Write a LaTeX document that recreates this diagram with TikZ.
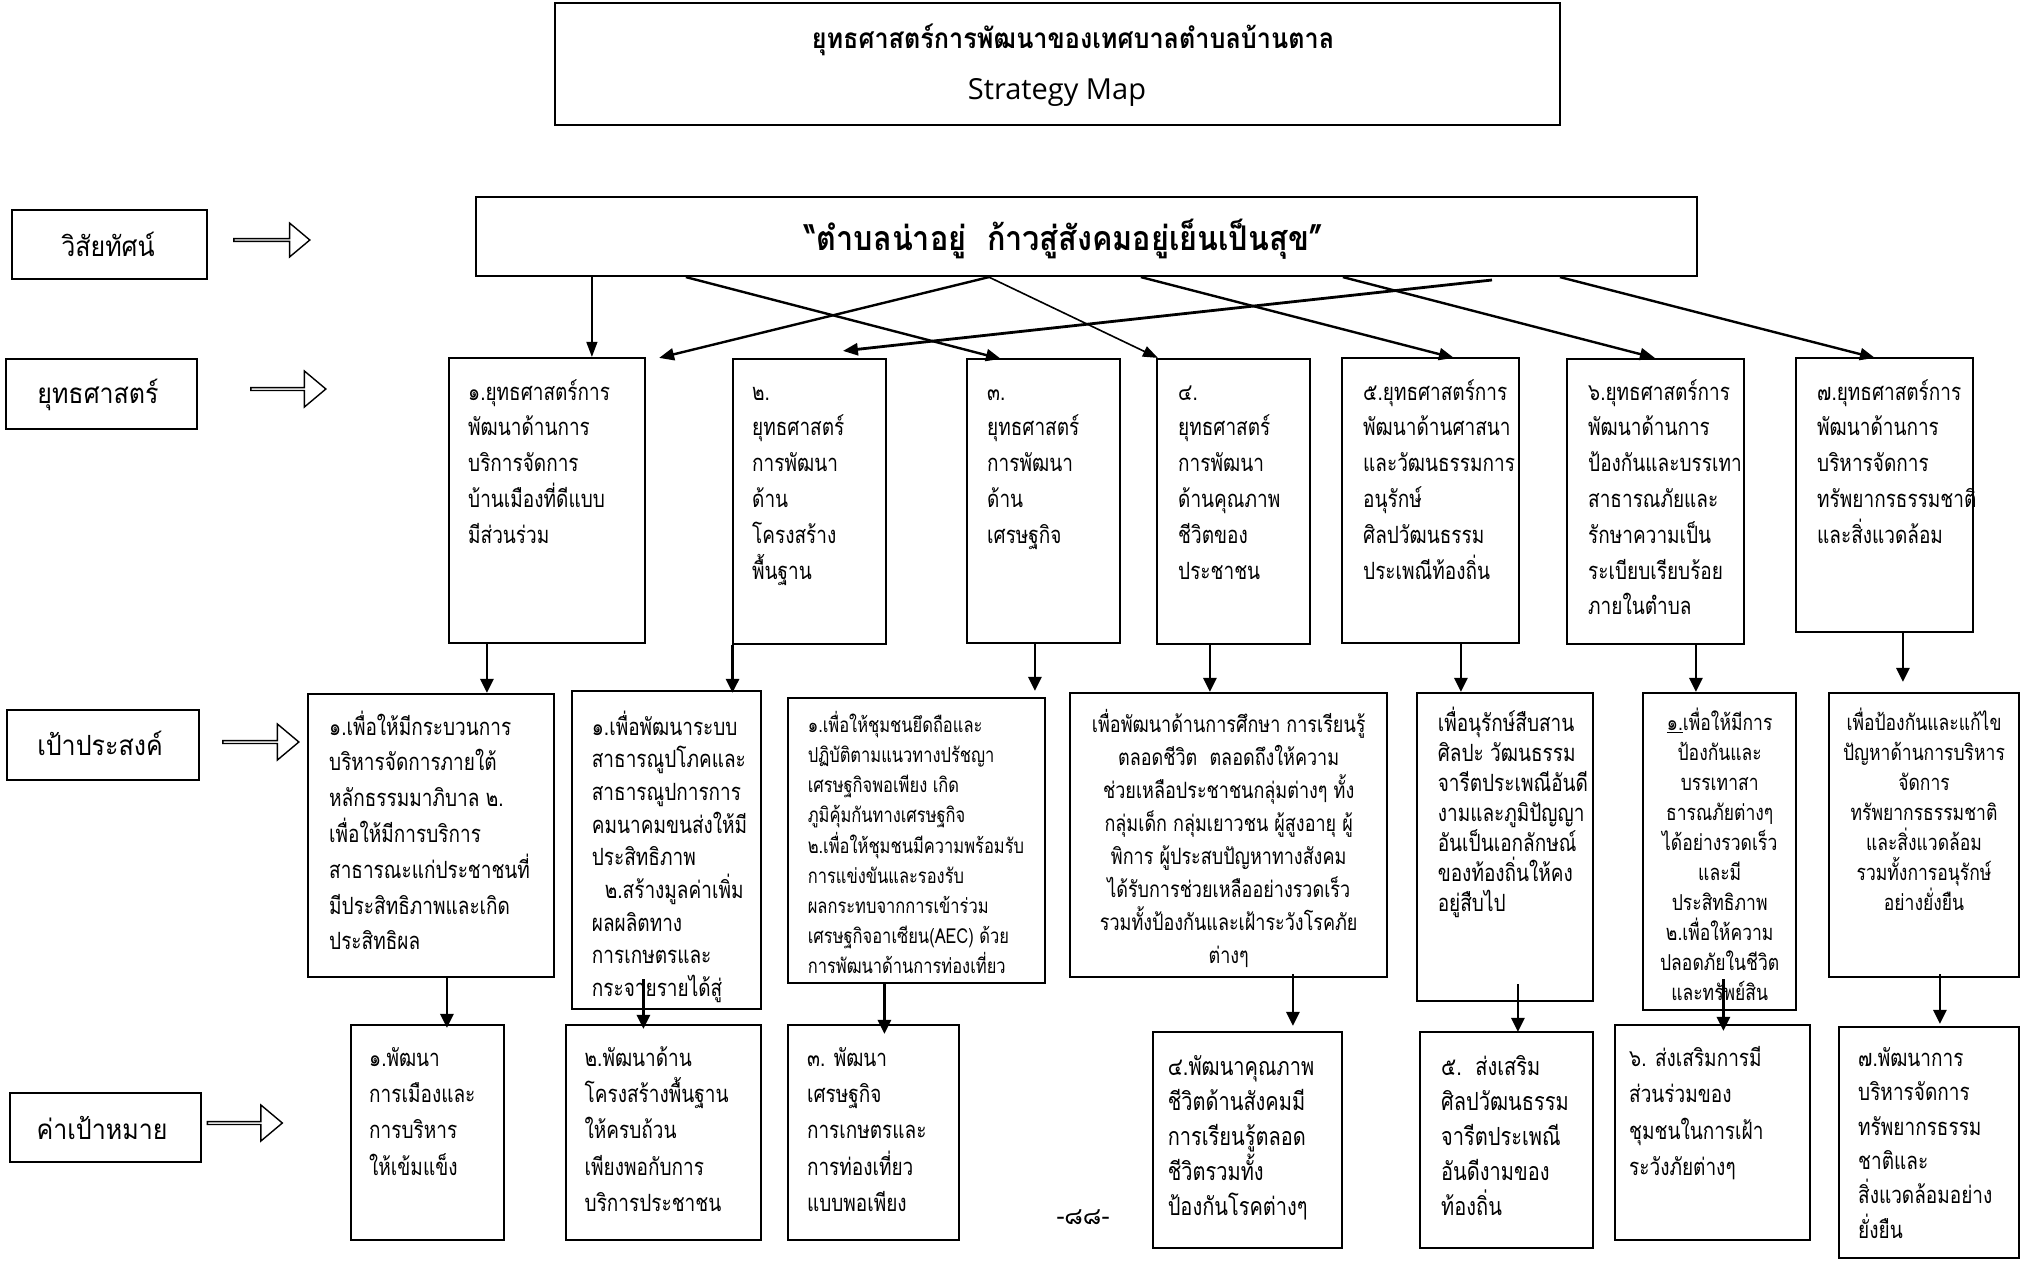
\documentclass[tikz,border=0pt]{standalone}
\usepackage{fontspec}
\newfontfamily\thaifont[Script=Thai]{Loma}
\newfontfamily\thaic[Script=Thai, FakeStretch=0.8]{Loma}
\newfontfamily\thaim[Script=Thai, FakeStretch=0.9]{Loma}
\newfontfamily\latinsans{Open Sans}
\usetikzlibrary{arrows.meta,fit,shapes.arrows,calc}
\newcommand\fsz[2]{\fontsize{#1}{#2}\selectfont\lineskiplimit=-100pt\relax}
\tikzset{
  box/.style={draw, line width=2.2pt, inner sep=0pt},
  arr/.style={line width=2.8pt, -{Triangle[length=14pt,width=13pt]}},
  varr/.style={line width=2.4pt, -{Triangle[length=15pt,width=12pt]}},
  thinarr/.style={line width=1.3pt, -{Triangle[length=15pt,width=11pt]}},
  hollow/.style={single arrow, draw, line width=1.4pt, fill=white, inner sep=0pt,
    single arrow head extend=8pt, single arrow tip angle=80, shape border rotate=0},
  tl/.style={inner sep=0pt, align=left, anchor=base west},
  tc/.style={inner sep=0pt, align=center, anchor=base},
  lab/.style={tc, font={\thaim\fsz{27.8}{32}}},
  sfont/.style={font={\thaic\fsz{23.75}{35.8}}},
}
\begin{document}
\begin{tikzpicture}[x=1pt,y=-1pt]
\useasboundingbox[fill=white] (0,0) rectangle (2022,1261);

% ---------- title ----------
\node[box, fit={(555,3) (1560,125)}] (title) {};
\node[tc, font={\thaim\bfseries\fsz{28}{32}}] (titleA) at (1073,48) {ยุทธศาสตร์การพัฒนาของเทศบาลตำบลบ้านตาล};
\node[tc, font={\latinsans\fsz{29}{32}}] (titleB) at (1057,99) {Strategy Map};

% ---------- row labels ----------
\node[box, fit={(12,210) (207,279)}] (L1) {};
\node[lab] (L1t) at (108,256) {วิสัยทัศน์};
\node[box, fit={(6,359) (197,429)}] (L2) {};
\node[lab] (L2t) at (98,403) {ยุทธศาสตร์};
\node[box, fit={(7,710) (199,780)}] (L3) {};
\node[lab] (L3t) at (100,755) {เป้าประสงค์};
\node[box, fit={(10,1093) (201,1162)}] (L4) {};
\node[lab] (L4t) at (102,1139) {ค่าเป้าหมาย};

\node[hollow, minimum height=76pt, minimum width=34pt] (A1) at (271,240) {};
\node[hollow, minimum height=75pt, minimum width=36pt] (A2) at (287.5,389) {};
\node[hollow, minimum height=76pt, minimum width=36pt] (A3) at (260,742) {};
\node[hollow, minimum height=75pt, minimum width=36pt] (A4) at (244,1123) {};

% ---------- vision ----------
\node[box, fit={(476,197) (1697,276)}] (V) {};
\node[tc, font={\thaim\bfseries\fsz{34}{38}}] (Vt) at (1064,250) {“ตำบลน่าอยู่\ \ ก้าวสู่สังคมอยู่เย็นเป็นสุข”};

% ---------- strategies ----------
\node[box, fit={(449,358) (645,643)}] (S1) {};
\node[box, fit={(733,359) (886,644)}] (S2) {};
\node[box, fit={(967,359) (1120,643)}] (S3) {};
\node[box, fit={(1157,359) (1310,644)}] (S4) {};
\node[box, fit={(1342,358) (1519,643)}] (S5) {};
\node[box, fit={(1567,359) (1744,644)}] (S6) {};
\node[box, fit={(1796,358) (1973,632)}] (S7) {};
\node[tl, sfont] (S1t) at (468,543.2) {๑.ยุทธศาสตร์การ\\พัฒนาด้านการ\\บริการจัดการ\\บ้านเมืองที่ดีแบบ\\มีส่วนร่วม};
\node[tl, sfont] (S2t) at (752,579) {๒.\\ยุทธศาสตร์\\การพัฒนา\\ด้าน\\โครงสร้าง\\พื้นฐาน};
\node[tl, sfont] (S3t) at (987,543.2) {๓.\\ยุทธศาสตร์\\การพัฒนา\\ด้าน\\เศรษฐกิจ};
\node[tl, sfont] (S4t) at (1178,579) {๔.\\ยุทธศาสตร์\\การพัฒนา\\ด้านคุณภาพ\\ชีวิตของ\\ประชาชน};
\node[tl, sfont] (S5t) at (1363,579) {๕.ยุทธศาสตร์การ\\พัฒนาด้านศาสนา\\และวัฒนธรรมการ\\อนุรักษ์\\ศิลปวัฒนธรรม\\ประเพณีท้องถิ่น};
\begin{scope}
\clip (S6.north west) rectangle (S6.south east);
\node[tl, sfont] (S6t) at (1588,614.8) {๖.ยุทธศาสตร์การ\\พัฒนาด้านการ\\ป้องกันและบรรเทา\\สาธารณภัยและ\\รักษาความเป็น\\ระเบียบเรียบร้อย\\ภายในตำบล};
\end{scope}
\begin{scope}
\clip (S7.north west) rectangle (S7.south east);
\node[tl, sfont] (S7t) at (1817,543.2) {๗.ยุทธศาสตร์การ\\พัฒนาด้านการ\\บริหารจัดการ\\ทรัพยากรธรรมชาติ\\และสิ่งแวดล้อม};
\end{scope}

% ---------- objectives ----------
\node[box, fit={(308,694) (554,977)}] (O1) {};
\node[box, fit={(572,691) (761,1009)}] (O2) {};
\node[box, fit={(788,698) (1045,983)}] (O3) {};
\node[box, fit={(1070,693) (1387,977)}] (O4) {};
\node[box, fit={(1417,693) (1593,1001)}] (O5) {};
\node[box, fit={(1643,693) (1796,1010)}] (O6) {};
\node[box, fit={(1829,693) (2019,977)}] (O7) {};
\node[tl, font={\thaic\fsz{23.75}{35.8}}] (O1t) at (329,949.8) {๑.เพื่อให้มีกระบวนการ\\บริหารจัดการภายใต้\\หลักธรรมมาภิบาล ๒.\\เพื่อให้มีการบริการ\\สาธารณะแก่ประชาชนที่\\มีประสิทธิภาพและเกิด\\ประสิทธิผล};
\node[tl, font={\thaic\fsz{23.75}{32.7}}] (O2t) at (591.7,996.6) {๑.เพื่อพัฒนาระบบ\\สาธารณูปโภคและ\\สาธารณูปการการ\\คมนาคมขนส่งให้มี\\ประสิทธิภาพ\\\hspace*{13pt}๒.สร้างมูลค่าเพิ่ม\\ผลผลิตทาง\\การเกษตรและ\\กระจายรายได้สู่};
\node[tl, font={\thaic\fsz{20.6}{30.2}}] (O3t) at (807.6,973.8) {๑.เพื่อให้ชุมชนยึดถือและ\\ปฏิบัติตามแนวทางปรัชญา\\เศรษฐกิจพอเพียง เกิด\\ภูมิคุ้มกันทางเศรษฐกิจ\\๒.เพื่อให้ชุมชนมีความพร้อมรับ\\การแข่งขันและรองรับ\\ผลกระทบจากการเข้าร่วม\\เศรษฐกิจอาเซียน(AEC) ด้วย\\การพัฒนาด้านการท่องเที่ยว};
\node[tc, font={\thaic\fsz{22.5}{33}}] (O4t) at (1228.7,963.9) {เพื่อพัฒนาด้านการศึกษา การเรียนรู้\\ตลอดชีวิต\ \ ตลอดถึงให้ความ\\ช่วยเหลือประชาชนกลุ่มต่างๆ ทั้ง\\กลุ่มเด็ก กลุ่มเยาวชน ผู้สูงอายุ ผู้\\พิการ ผู้ประสบปัญหาทางสังคม\\ได้รับการช่วยเหลืออย่างรวดเร็ว\\รวมทั้งป้องกันและเฝ้าระวังโรคภัย\\ต่างๆ};
\node[tl, font={\thaic\fsz{23.75}{30}}] (O5t) at (1437.6,911) {เพื่อนุรักษ์สืบสาน\\ศิลปะ วัฒนธรรม\\จารีตประเพณีอันดี\\งามและภูมิปัญญา\\อันเป็นเอกลักษณ์\\ของท้องถิ่นให้คง\\อยู่สืบไป};
\node[tc, font={\thaic\fsz{21.9}{30}}] (O6t) at (1719.7,1000.4) {\underline{๑.}เพื่อให้มีการ\\ป้องกันและ\\บรรเทาสา\\ธารณภัยต่างๆ\\ได้อย่างรวดเร็ว\\และมี\\ประสิทธิภาพ\\๒.เพื่อให้ความ\\ปลอดภัยในชีวิต\\และทรัพย์สิน};
\node[tc, font={\thaic\fsz{21.9}{30}}] (O7t) at (1924,910.4) {เพื่อป้องกันและแก้ไข\\ปัญหาด้านการบริหาร\\จัดการ\\ทรัพยากรธรรมชาติ\\และสิ่งแวดล้อม\\รวมทั้งการอนุรักษ์\\อย่างยั่งยืน};

% ---------- targets ----------
\node[box, fit={(351,1025) (504,1240)}] (T1) {};
\node[box, fit={(566,1025) (761,1240)}] (T2) {};
\node[box, fit={(788,1025) (959,1240)}] (T3) {};
\node[box, fit={(1153,1032) (1342,1248)}] (T4) {};
\node[box, fit={(1420,1032) (1593,1248)}] (T5) {};
\node[box, fit={(1615,1025) (1810,1240)}] (T6) {};
\node[box, fit={(1839,1027) (2019,1258)}] (T7) {};
\node[tl, font={\thaic\fsz{23.75}{36.3}}] (T1t) at (369,1175.2) {๑.พัฒนา\\การเมืองและ\\การบริหาร\\ให้เข้มแข็ง};
\node[tl, font={\thaic\fsz{23.75}{36.3}}] (T2t) at (584.5,1211.5) {๒.พัฒนาด้าน\\โครงสร้างพื้นฐาน\\ให้ครบถ้วน\\เพียงพอกับการ\\บริการประชาชน};
\node[tl, font={\thaic\fsz{23.75}{36.3}}] (T3t) at (806.8,1211.5) {๓. พัฒนา\\เศรษฐกิจ\\การเกษตรและ\\การท่องเที่ยว\\แบบพอเพียง};
\node[tl, font={\thaic\fsz{25}{35}}] (T4t) at (1167.6,1215.5) {๔.พัฒนาคุณภาพ\\ชีวิตด้านสังคมมี\\การเรียนรู้ตลอด\\ชีวิตรวมทั้ง\\ป้องกันโรคต่างๆ};
\node[tl, font={\thaic\fsz{25}{35}}] (T5t) at (1441,1215.5) {๕.\ \ ส่งเสริม\\ศิลปวัฒนธรรม\\จารีตประเพณี\\อันดีงามของ\\ท้องถิ่น};
\node[tl, font={\thaic\fsz{23.75}{36.5}}] (T6t) at (1629,1175.8) {๖. ส่งเสริมการมี\\ส่วนร่วมของ\\ชุมชนในการเฝ้า\\ระวังภัยต่างๆ};
\node[tl, font={\thaic\fsz{23.75}{34.4}}] (T7t) at (1858,1238.3) {๗.พัฒนาการ\\บริหารจัดการ\\ทรัพยากรธรรม\\ชาติและ\\สิ่งแวดล้อมอย่าง\\ยั่งยืน};

\node[tc, font={\thaifont\fsz{24}{28}}] (page) at (1083,1224) {-๘๘-};

% ---------- connectors: vision -> strategies ----------
\draw[thinarr] ($(V.south west)+(117,0)$) -- ($(S1.north west)+(144,0)$);
\draw[varr] ($(V.south west)+(211,0)$) -- ($(S3.north west)+(35,1)$);
\draw[varr] ($(V.south west)+(514,0)$) -- ($(S1.north east)+(13,1)$);
\draw[thinarr, line width=1.6pt] ($(V.south west)+(514,0)$) -- ($(S4.north west)+(2,0)$);
\draw[varr] ($(V.south west)+(666,0)$) -- ($(S5.north west)+(113,1)$);
\coordinate (efree) at (1492,280);
\draw[varr, line width=2.8pt] (efree) -- ($(S2.north west)+(111,-7)$);
\draw[varr] ($(V.south west)+(868,0)$) -- ($(S6.north west)+(89,0)$);
\draw[varr] ($(V.south west)+(1085,0)$) -- ($(S7.north west)+(80,1)$);

% ---------- strategies -> objectives ----------
\coordinate (s1b) at ($(S1.south west)+(39,0)$);
\coordinate (s2b) at ($(S2.south west)+(0.6,0)$);
\coordinate (s3b) at ($(S3.south west)+(69,0)$);
\coordinate (s4b) at ($(S4.south west)+(54,0)$);
\coordinate (s5b) at ($(S5.south west)+(120,0)$);
\coordinate (s6b) at ($(S6.south west)+(130,0)$);
\coordinate (s7b) at ($(S7.south west)+(108,0)$);
\draw[arr] (s1b) -- (s1b |- O1.north);
\draw[arr] (s2b) -- ($(s2b |- O2.north)+(0,3)$);
\draw[arr] (s3b) -- ($(s3b |- O3.north)+(0,-6)$);
\draw[arr] (s4b) -- (s4b |- O4.north);
\draw[arr] (s5b) -- (s5b |- O5.north);
\draw[arr] (s6b) -- (s6b |- O6.north);
\draw[arr] (s7b) -- ($(s7b |- O7.north)+(0,-10)$);

% ---------- objectives -> targets ----------
\coordinate (o1b) at ($(O1.south west)+(140,0)$);
\coordinate (o2b) at ($(O2.south west)+(72.5,-31)$);
\coordinate (o3b) at ($(O3.south west)+(97.5,0)$);
\coordinate (o4b) at ($(O4.south west)+(224,-4)$);
\coordinate (o5b) at ($(O5.south west)+(102,-18)$);
\coordinate (o6b) at ($(O6.south west)+(81.5,-32)$);
\coordinate (o7b) at ($(O7.south west)+(112,-4)$);
\draw[arr] (o1b) -- ($(o1b |- T1.north)+(0,4)$);
\draw[arr] (o2b) -- ($(o2b |- T2.north)+(0,5)$);
\draw[arr] (o3b) -- ($(o3b |- T3.north)+(0,10)$);
\draw[arr] (o4b) -- ($(o4b |- T4.north)+(0,-5)$);
\draw[arr] (o5b) -- ($(o5b |- T5.north)+(0,1)$);
\draw[arr] (o6b) -- ($(o6b |- T6.north)+(0,7)$);
\draw[arr] (o7b) -- ($(o7b |- T7.north)+(0,-2)$);
\end{tikzpicture}
\end{document}
